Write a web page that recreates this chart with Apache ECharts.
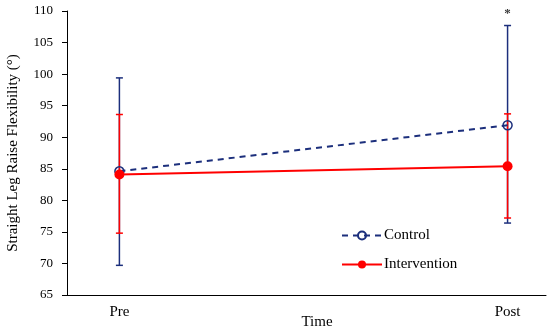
<!DOCTYPE html>
<html>
<head>
<meta charset="utf-8">
<script src="https://cdn.jsdelivr.net/npm/echarts@6/dist/echarts.min.js"></script>
<style>html,body{margin:0;padding:0;background:#fff}#c{width:550px;height:334px}</style>
</head>
<body>
<div id="c"></div>
<script>
const categories = ['Pre', 'Post'];
const controlMean = [84.6, 91.9];
const controlUpper = [99.4, 107.7];
const controlLower = [69.7, 76.4];
const interventionMean = [84.1, 85.4];
const interventionUpper = [93.6, 93.7];
const interventionLower = [74.8, 77.2];
const yTicks = { min: 65, max: 110, interval: 5 };
const significance = [{ index: 1, value: 109.6, text: '*' }];

const NAVY = '#1c2f7c';
const RED = '#ff0000';
const FONT = 'Liberation Serif';

function errorSeries(name, upper, lower, color) {
  return {
    type: 'custom',
    name: name + ' err',
    silent: true,
    z: color === RED ? 3 : 2,
    data: upper.map((u, i) => [i, lower[i], u]),
    renderItem: function (params, api) {
      const x = api.value(0);
      const lo = api.coord([x, api.value(1)]);
      const hi = api.coord([x, api.value(2)]);
      const w = 3.5;
      const style = { stroke: color, lineWidth: 1.5 };
      return {
        type: 'group',
        children: [
          { type: 'line', shape: { x1: lo[0], y1: lo[1], x2: hi[0], y2: hi[1] }, style: style },
          { type: 'line', shape: { x1: lo[0] - w, y1: lo[1], x2: lo[0] + w, y2: lo[1] }, style: style },
          { type: 'line', shape: { x1: hi[0] - w, y1: hi[1], x2: hi[0] + w, y2: hi[1] }, style: style }
        ]
      };
    }
  };
}

const chart = echarts.init(document.getElementById('c'), null, { renderer: 'canvas' });
chart.setOption({
  animation: false,
  backgroundColor: '#fff',
  textStyle: { fontFamily: FONT },
  grid: { left: 67, right: 4, top: 11, bottom: 39, containLabel: false, outerBoundsMode: 'none' },
  legend: {
    orient: 'vertical',
    left: 341,
    top: 228,
    padding: 0,
    itemWidth: 40,
    itemHeight: 10,
    itemGap: 14,
    data: ['Control', 'Intervention'],
    textStyle: { fontFamily: FONT, fontSize: 15, color: '#000', padding: [0, 0, 0, -3] }
  },
  xAxis: {
    type: 'value',
    min: -0.135,
    max: 1.099,
    name: 'Time',
    nameLocation: 'middle',
    nameGap: 20,
    nameMoveOverlap: false,
    nameTextStyle: { fontFamily: FONT, fontSize: 15, color: '#000', padding: [0, 0, 0, 21] },
    axisLine: { show: true, onZero: false, lineStyle: { color: '#000', width: 1 } },
    axisTick: { show: false },
    splitLine: { show: false },
    axisLabel: {
      customValues: [0, 1],
      formatter: v => categories[Math.round(v)],
      fontFamily: FONT, fontSize: 15, color: '#000', margin: 10
    }
  },
  yAxis: {
    type: 'value',
    min: yTicks.min,
    max: yTicks.max,
    interval: yTicks.interval,
    name: 'Straight Leg Raise Flexibility (°)',
    nameLocation: 'middle',
    nameGap: 46,
    nameMoveOverlap: false,
    nameTextStyle: { fontFamily: FONT, fontSize: 15, color: '#000' },
    axisLine: { show: true, onZero: false, lineStyle: { color: '#000', width: 1 } },
    axisTick: { show: true, inside: false, length: 5, lineStyle: { color: '#000' } },
    splitLine: { show: false },
    axisLabel: { fontFamily: FONT, fontSize: 13, color: '#000', margin: 14 }
  },
  series: [
    errorSeries('Control', controlUpper, controlLower, NAVY),
    errorSeries('Intervention', interventionUpper, interventionLower, RED),
    {
      name: 'Control',
      type: 'line',
      z: 4,
      data: controlMean.map((v, i) => [i, v]),
      symbol: 'circle',
      symbolSize: 9,
      showAllSymbol: true,
      lineStyle: { color: NAVY, width: 2, type: [6, 5] },
      itemStyle: { color: 'rgba(255,255,255,0)', borderColor: NAVY, borderWidth: 1.5 }
    },
    {
      name: 'Intervention',
      type: 'line',
      z: 5,
      data: interventionMean.map((v, i) => [i, v]),
      symbol: 'circle',
      symbolSize: 10,
      lineStyle: { color: RED, width: 2 },
      itemStyle: { color: RED, borderColor: RED, borderWidth: 0 }
    },
    {
      name: 'sig',
      type: 'scatter',
      silent: true,
      symbolSize: 0,
      data: significance.map(s => [s.index, s.value]),
      label: {
        show: true,
        position: 'inside',
        formatter: p => significance[p.dataIndex].text,
        fontFamily: FONT, fontSize: 13, fontWeight: 'bold', color: '#000'
      }
    }
  ]
});
</script>
</body>
</html>
